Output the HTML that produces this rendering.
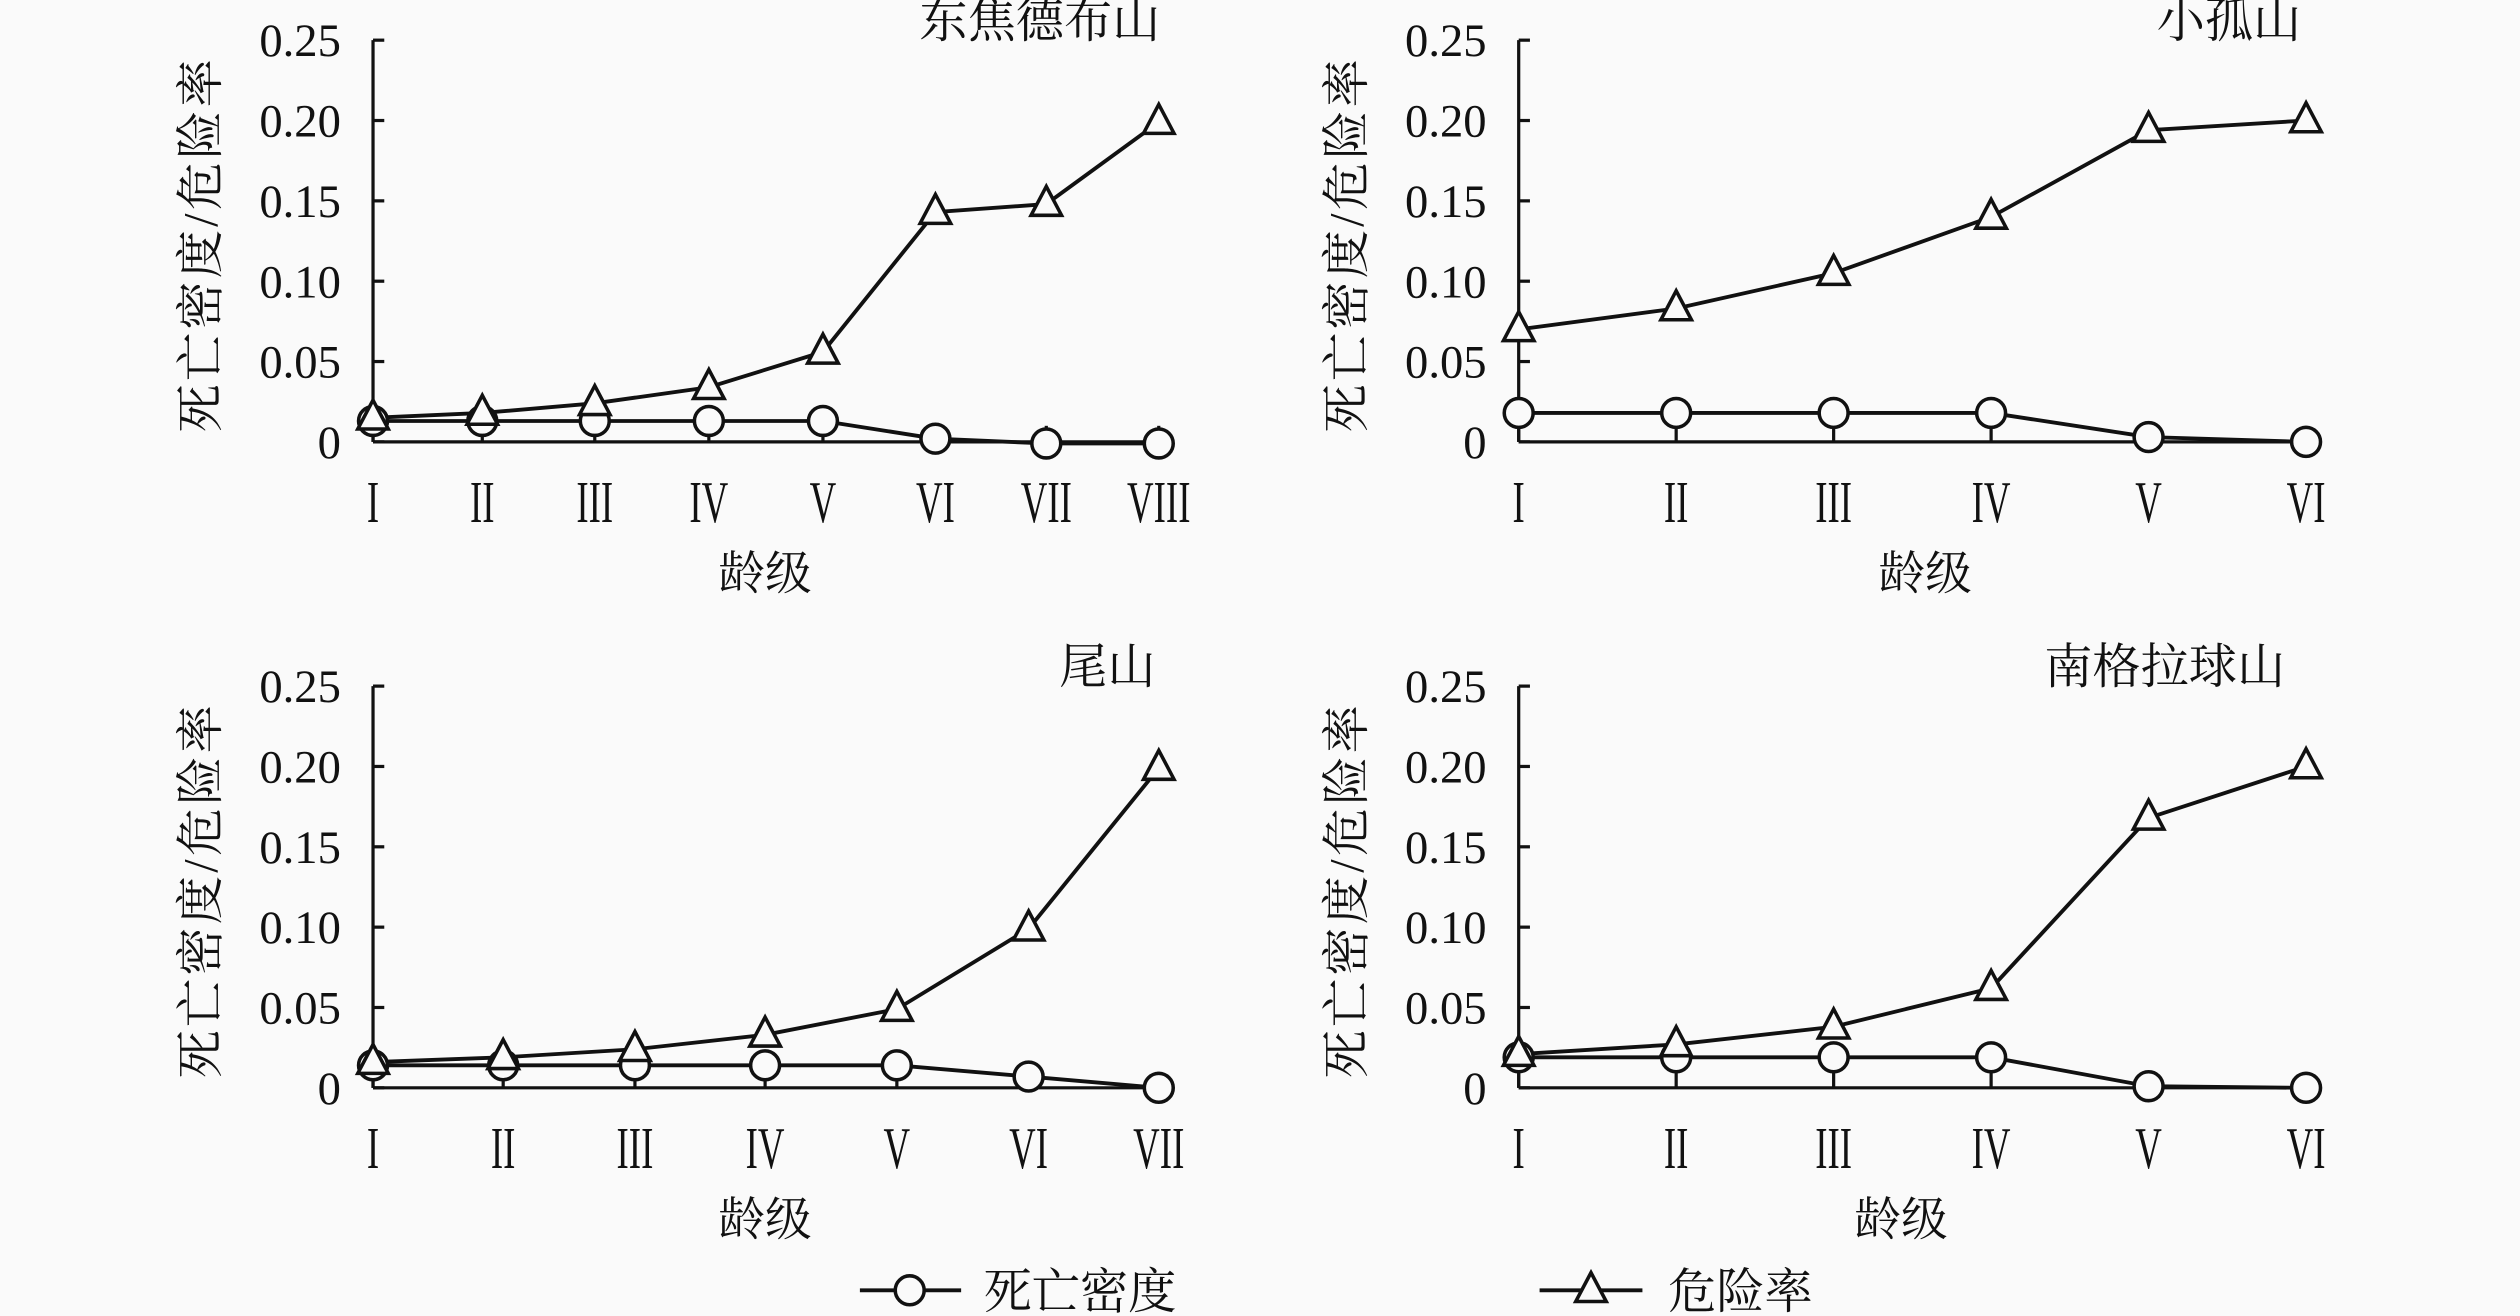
<!DOCTYPE html>
<html><head><meta charset="utf-8"><style>
html,body{margin:0;padding:0;background:#fafafa;}
svg{display:block}
text{font-family:"Liberation Serif","Noto Serif CJK SC",serif;fill:#111}
</style></head><body>
<svg id="s" width="2520" height="1316" viewBox="0 0 1568 819" xmlns="http://www.w3.org/2000/svg"></svg>
<script>
const s=document.getElementById('s');let h='';
const R=['I','II','III','IV','V','VI','VII','VIII'];
function panel(ax,top,cats,tri,cir,title,tx,xl){
 const y0=top+250,sc=1000;const Y=v=>y0-v*sc;
 h+=`<line x1="${ax}" y1="${top}" x2="${ax}" y2="${y0}" stroke="#111" stroke-width="2"/>`;
 h+=`<line x1="${ax}" y1="${y0}" x2="${cats[cats.length-1]}" y2="${y0}" stroke="#111" stroke-width="2"/>`;
 ['0','0.05','0.10','0.15','0.20','0.25'].forEach((t,i)=>{const y=y0-i*50;
  h+=`<line x1="${ax}" y1="${y}" x2="${ax+7}" y2="${y}" stroke="#111" stroke-width="2"/>`;
  h+=`<text x="${ax-20}" y="${y+10}" font-size="29" text-anchor="end">${t}</text>`;});
 cats.forEach((x,i)=>{h+=`<line x1="${x}" y1="${y0}" x2="${x}" y2="${y0-10}" stroke="#111" stroke-width="2"/>`;
  h+=`<text x="${x}" y="${y0+50}" font-size="37" text-anchor="middle" transform="translate(${x},0) scale(0.62,1) translate(${-x},0)">${R[i]}</text>`;});
 const pl=(d)=>d.map((v,i)=>cats[i]+','+Y(v)).join(' ');
 h+=`<polyline points="${pl(cir)}" fill="none" stroke="#111" stroke-width="2.4"/>`;
 h+=`<polyline points="${pl(tri)}" fill="none" stroke="#111" stroke-width="2.4"/>`;
 cir.forEach((v,i)=>h+=`<circle cx="${cats[i]}" cy="${Y(v)}" r="9" fill="#fafafa" stroke="#111" stroke-width="2.2"/>`);
 tri.forEach((v,i)=>{const x=cats[i],y=Y(v);h+=`<polygon points="${x},${y-11} ${x-9.5},${y+7} ${x+9.5},${y+7}" fill="#fafafa" stroke="#111" stroke-width="2.2"/>`;});
 h+=`<text x="${tx}" y="${top-2}" font-size="30" text-anchor="end">${title}</text>`;
 h+=`<text transform="translate(${ax-97},${top+127}) rotate(-90)" font-size="30" letter-spacing="2" text-anchor="middle">死亡密度/危险率</text>`;
 h+=`<text x="${xl}" y="${y0+92}" font-size="29" text-anchor="middle">龄级</text>`;
}
panel(232,25,[232,300,370,441,512,582,651,721],[0.015,0.018,0.024,0.034,0.056,0.143,0.148,0.199],[0.013,0.013,0.013,0.013,0.013,0.002,-0.001,-0.001],'东焦德布山',722,476);
panel(945,25,[945,1043,1141,1239,1337,1435],[0.070,0.083,0.105,0.140,0.194,0.200],[0.018,0.018,0.018,0.018,0.003,0],'小孤山',1432,1198);
panel(232,427,[232,313,395,476,558,640,721],[0.016,0.019,0.024,0.033,0.049,0.099,0.199],[0.014,0.014,0.014,0.014,0.014,0.007,0],'尾山',719,476);
panel(945,427,[945,1043,1141,1239,1337,1435],[0.021,0.027,0.038,0.062,0.168,0.200],[0.019,0.019,0.019,0.019,0.001,0],'南格拉球山',1422,1183);
h+=`<line x1="535" y1="803" x2="598" y2="803" stroke="#111" stroke-width="2.4"/><circle cx="566" cy="803" r="9" fill="#fafafa" stroke="#111" stroke-width="2.2"/>`;
h+=`<text x="612" y="814" font-size="30">死亡密度</text>`;
h+=`<line x1="958" y1="803" x2="1022" y2="803" stroke="#111" stroke-width="2.4"/><polygon points="990,792 980.5,810 999.5,810" fill="#fafafa" stroke="#111" stroke-width="2.2"/>`;
h+=`<text x="1038" y="814" font-size="30">危险率</text>`;
s.innerHTML=h;
</script>
</body></html>
